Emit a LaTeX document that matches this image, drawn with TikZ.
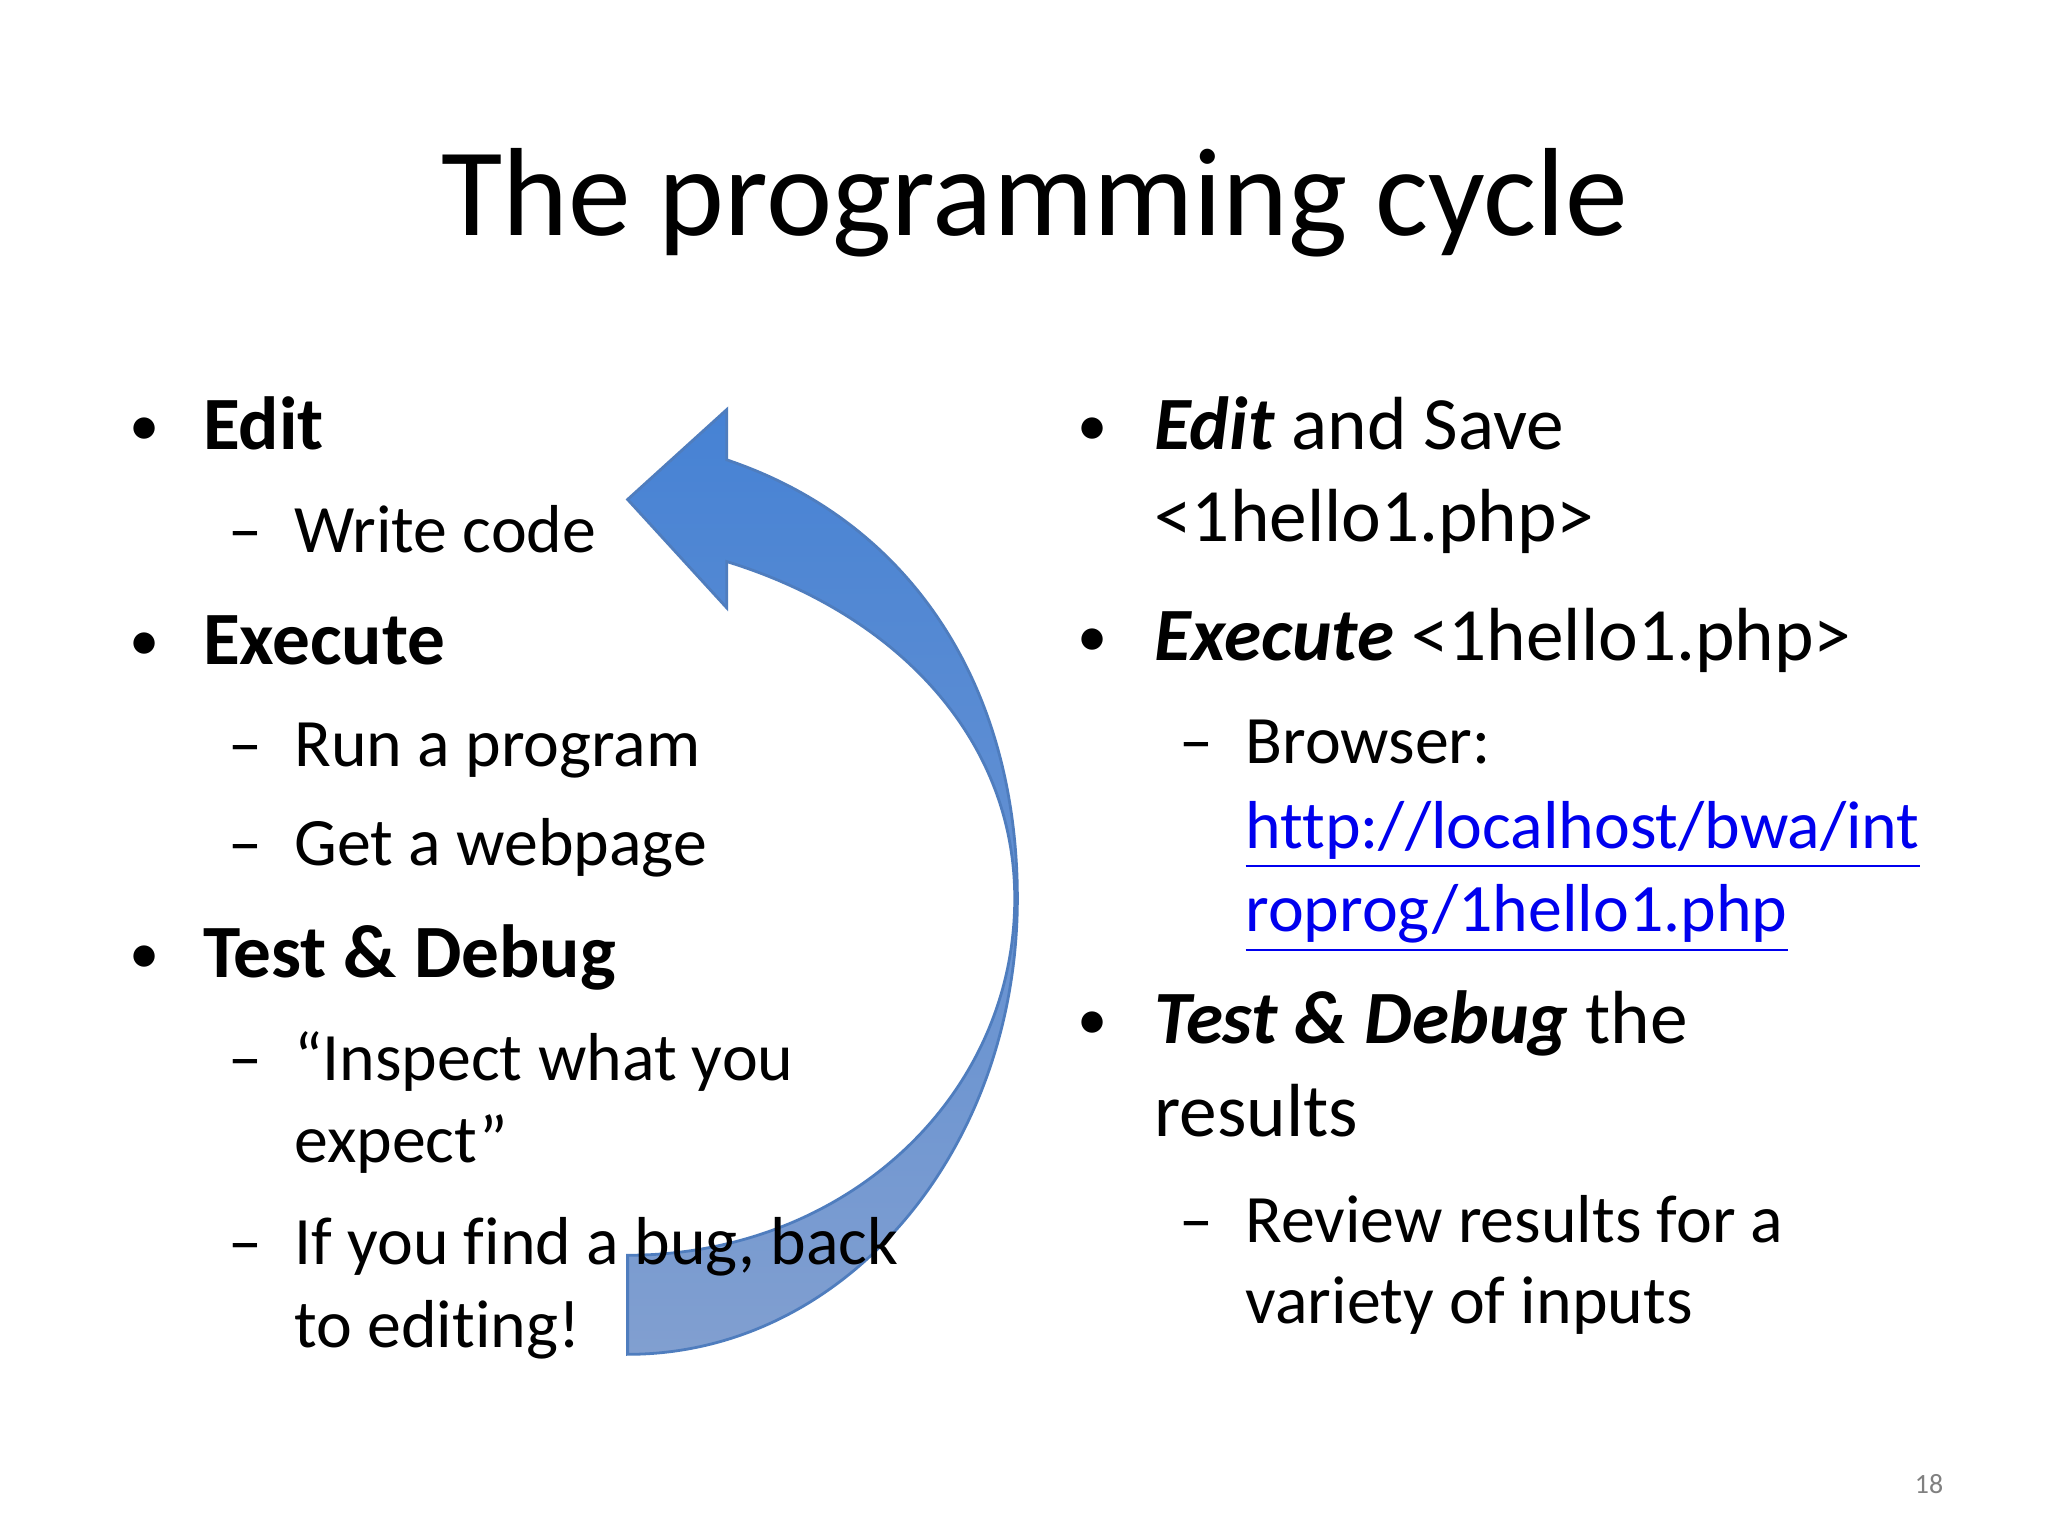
\documentclass[tikz,border=0pt]{standalone}
\usepackage{fontspec}
\setmainfont{Carlito}[Ligatures=NoCommon]
\definecolor{arrtop}{HTML}{4682D4}
\definecolor{arrbot}{HTML}{819FD0}
\definecolor{arredge}{HTML}{4F7DBE}
\definecolor{urlc}{HTML}{0000EE}
\begin{document}
\begin{tikzpicture}[x=0.01cm,y=-0.01cm,
  L/.style={anchor=base west,inner sep=0pt,font=\fontsize{16.2}{18}\selectfont},
  S/.style={anchor=base west,inner sep=0pt,font=\fontsize{14.6}{16}\selectfont},
  B/.style={anchor=base west,inner sep=0pt,font=\fontsize{13}{14}\selectfont},
  url/.style={S,text=urlc}]
\useasboundingbox (0,0) rectangle (1550,1162);
\fill[white] (0,0) rectangle (1550,1162);
\node[anchor=base,inner sep=0pt,font=\fontsize{27}{30}\selectfont] (title) at (783,178) {The programming cycle};
% arrow
\shade[top color=arrtop, bottom color=arrbot, draw=arredge, line width=0.6pt]
  (475,1025) .. controls (640,1025) and (770,870) .. (770,680)
  .. controls (770,520) and (690,395) .. (550,348)
  -- (550,310) -- (475,378) -- (550,460) -- (550,425)
  .. controls (680,465) and (768,560) .. (768,680)
  .. controls (768,830) and (640,950) .. (475,950) -- cycle;
% left column
\node[B] (b1) at (97,337) {•}; \node[L] (t1) at (153,340) {\textbf{Edit}};
\node[S] (d1) at (172,418) {–}; \node[S] (s1) at (222,418) {Write code};
\node[B] (b2) at (97,500) {•}; \node[L] (t2) at (153,503) {\textbf{Execute}};
\node[S] (d2) at (172,580) {–}; \node[S] (s2) at (222,580) {Run a program};
\node[S] (d3) at (172,655) {–}; \node[S] (s3) at (222,655) {Get a webpage};
\node[B] (b3) at (97,737) {•}; \node[L] (t3) at (153,740) {\textbf{Test \& Debug}};
\node[S] (d4) at (172,818) {–}; \node[S] (s4) at (222,818) {“Inspect what you};
\node[S] (s4b) at (222,880) {expect”};
\node[S] (d5) at (172,957) {–}; \node[S] (s5) at (222,957) {If you find a bug, back};
\node[S] (s5b) at (222,1020) {to editing!};
% right column
\node[B] (r1) at (815,337) {•}; \node[L] (rt1) at (873,340) {\textbf{\textit{Edit}} and Save};
\node[L] (rt1b) at (873,410) {<1hello1.php>};
\node[B] (r2) at (815,497) {•}; \node[L] (rt2) at (873,500) {\textbf{\textit{Execute}} <1hello1.php>};
\node[S] (rd1) at (892,578) {–}; \node[S] (rs1) at (942,578) {Browser:};
\node[url] (u1) at (942,642) {\underline{http://localhost/bwa/int}};
\node[url] (u2) at (942,705) {\underline{roprog/1hello1.php}};
\node[B] (r3) at (815,787) {•}; \node[L] (rt3) at (873,790) {\textbf{\textit{Test \& Debug}} the};
\node[L] (rt3b) at (873,860) {results};
\node[S] (rd2) at (892,940) {–}; \node[S] (rs2) at (942,940) {Review results for a};
\node[S] (rs2b) at (942,1002) {variety of inputs};
\node[anchor=base,inner sep=0pt,text=gray,font=\fontsize{6}{7}\selectfont] (pg) at (1460,1130) {18};
\end{tikzpicture}
\end{document}
